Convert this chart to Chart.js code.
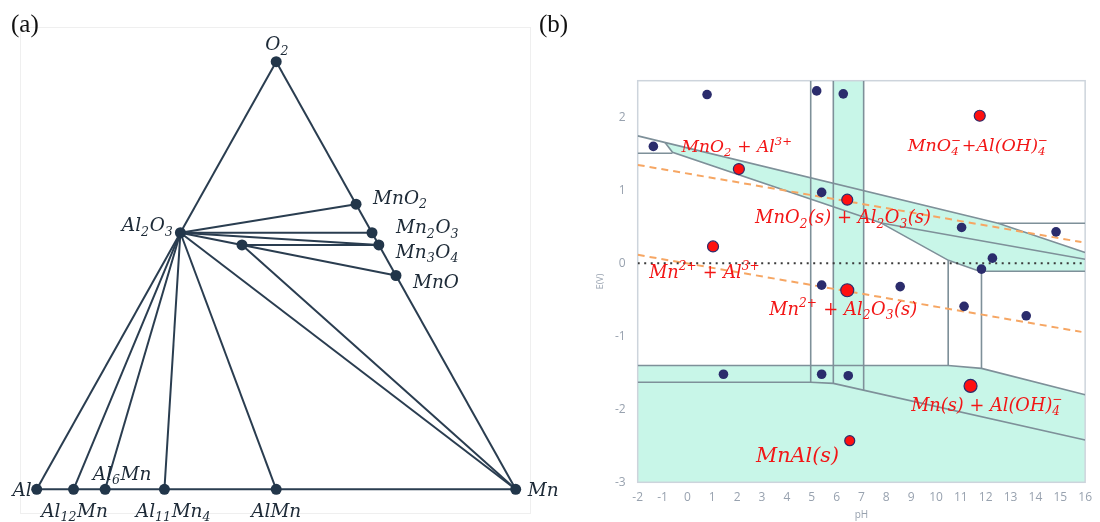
<!DOCTYPE html>
<html>
<head>
<meta charset="utf-8">
<script src="https://cdn.jsdelivr.net/npm/chart.js@4.4.1/dist/chart.umd.min.js"></script>
<style>
  html, body { margin: 0; padding: 0; background: #fff; width: 1100px; height: 522px; overflow: hidden; }
  #wrap { position: relative; width: 1100px; height: 522px; }
  canvas { position: absolute; }
  .tag { position: absolute; font-family: "Liberation Serif", "DejaVu Serif", serif; font-size: 25px; color: #111; line-height: 1; }
</style>
</head>
<body>
<div id="wrap">
  <canvas id="tern" width="560" height="522" style="left:0;top:0;width:560px;height:522px"></canvas>
  <canvas id="pourbaix" width="540" height="462" style="left:560px;top:60px;width:540px;height:462px"></canvas>
  <div class="tag" style="left:11px;top:11px">(a)</div>
  <div class="tag" style="left:539px;top:11px">(b)</div>
</div>
<script>
// ---------- (a) Al–Mn–O ternary: phases given as atom counts ----------
const phaseNames = ['Al', 'Al12Mn', 'Al6Mn', 'Al11Mn4', 'AlMn', 'Mn', 'MnO', 'Mn3O4', 'Mn2O3', 'MnO2', 'O2', 'Al2O3', 'MnAl2O4'];
const phaseAl    = [1, 12, 6, 11, 1, 0, 0, 0, 0, 0, 0, 2, 2];
const phaseMn    = [0, 1, 1, 4, 1, 1, 1, 3, 2, 1, 0, 0, 1];
const phaseO     = [0, 0, 0, 0, 0, 0, 1, 4, 3, 2, 2, 3, 4];
const phaseLabels = ['Al', 'Al_{12}Mn', 'Al_{6}Mn', 'Al_{11}Mn_{4}', 'AlMn', 'Mn', 'MnO', 'Mn_{3}O_{4}', 'Mn_{2}O_{3}', 'MnO_{2}', 'O_{2}', 'Al_{2}O_{3}', ''];
const tieLines = [
  ['Al', 'Mn'], ['Al', 'Al2O3'], ['O2', 'Al2O3'], ['O2', 'MnO2'], ['MnO2', 'Mn2O3'],
  ['Mn2O3', 'Mn3O4'], ['Mn3O4', 'MnO'], ['MnO', 'Mn'],
  ['Al2O3', 'MnO2'], ['Al2O3', 'Mn2O3'], ['Al2O3', 'Mn3O4'], ['Al2O3', 'MnAl2O4'],
  ['MnAl2O4', 'Mn3O4'], ['MnAl2O4', 'MnO'], ['MnAl2O4', 'Mn'],
  ['Al2O3', 'Mn'], ['Al2O3', 'AlMn'], ['Al2O3', 'Al11Mn4'], ['Al2O3', 'Al6Mn'], ['Al2O3', 'Al12Mn']
];

// ---------- (b) E–pH diagram ----------
const phTicks = [-2, -1, 0, 1, 2, 3, 4, 5, 6, 7, 8, 9, 10, 11, 12, 13, 14, 15, 16];
const eTicks = [-3, -2, -1, 0, 1, 2];

// calculated compositions (navy) and selected states (red)
const bluePH = [0.79, 5.2, 6.27, -1.37, 5.4, 11.03, 14.83, 12.27, 11.83, 5.4, 8.56, 11.13, 13.63, 1.45, 5.4, 6.47];
const blueE  = [2.31, 2.36, 2.32, 1.60, 0.97, 0.49, 0.43, 0.07, -0.08, -0.30, -0.32, -0.59, -0.72, -1.52, -1.52, -1.54];
const redPH  = [2.07, 6.43, 1.03, 11.76, 6.43, 11.39, 6.53];
const redE   = [1.29, 0.87, 0.23, 2.02, -0.37, -1.68, -2.43];

// stability domains (pH, E)
const domainBand   = [[-0.9, 1.655], [12.5, 0.548], [16, 0.146], [16, -0.11], [11.75, -0.11], [10.5, 0.04], [7.8, 0.55], [-0.6, 1.52]];
const domainStripe = [[5.87, 2.5], [7.09, 2.5], [7.09, -3], [5.87, -3]];
const domainLow    = [[-2, -1.40], [10.49, -1.40], [11.83, -1.44], [16, -1.80], [16, -3], [-2, -3]];

// domain boundaries (pH, E)
const edgeUpper    = [[-2, 1.744], [12.5, 0.548], [16, 0.146]];
const edgeTopLeft  = [[-2, 1.507], [-0.6, 1.507]];
const edgeLower    = [[-0.9, 1.655], [-0.6, 1.52], [7.8, 0.55]];
const edgeMiddle   = [[7.8, 0.55], [16, 0.055]];
const edgeSteep    = [[7.8, 0.55], [10.5, 0.04], [11.75, -0.11], [16, -0.11]];
const edgeTopRight = [[12.5, 0.548], [16, 0.548]];
const edgeV1       = [[4.96, 2.5], [4.96, -1.63]];
const edgeV2       = [[5.87, 2.5], [5.87, -1.645]];
const edgeV3       = [[7.09, 2.5], [7.09, -1.74]];
const edgeV4       = [[10.49, 0.04], [10.49, -1.40]];
const edgeV5       = [[11.83, -0.11], [11.83, -1.44]];
const edgeLow1     = [[-2, -1.40], [10.49, -1.40], [11.83, -1.44], [16, -1.80]];
const edgeLow2     = [[-2, -1.63], [4.96, -1.63], [5.87, -1.645], [16, -2.42]];

// water stability limits and the E = 0 reference
const waterUpper = [[-2, 1.347], [15.85, 0.29]];
const waterLower = [[-2, 0.115], [15.85, -0.94]];
const zeroLine   = [[-2, 0], [16, 0]];

// ---------- styling ----------
const INK = '#22364a';
const GREEN = '#c8f6e8';
const EDGE = '#7e9099';
const NAVY = '#2b2c6c';
const TICK = '#98a2af';
const SERIF = '"DejaVu Serif"';
const redRadius = [5.5, 5.5, 5.5, 5.5, 6.5, 6.5, 5];

// ---------- rich text (sub/superscripts) ----------
function parseRich(str) {
  const segs = [];
  let buf = '', i = 0;
  while (i < str.length) {
    const c = str[i];
    if ((c === '_' || c === '^') && str[i + 1] === '{') {
      if (buf) { segs.push({ t: 'n', s: buf }); buf = ''; }
      const end = str.indexOf('}', i);
      const content = str.slice(i + 2, end);
      const kind = c === '_' ? 'sub' : 'sup';
      const prev = segs[segs.length - 1];
      if (prev && prev.t !== 'n' && prev.t !== kind && !prev.stack) prev.stack = { t: kind, s: content };
      else segs.push({ t: kind, s: content });
      i = end + 1;
    } else { buf += c; i++; }
  }
  if (buf) segs.push({ t: 'n', s: buf });
  return segs;
}
function richWidth(ctx, segs, size, family) {
  let w = 0;
  for (const sg of segs) {
    if (sg.t === 'n') { ctx.font = `italic ${size}px ${family}`; w += ctx.measureText(sg.s).width; }
    else {
      ctx.font = `italic ${size * 0.68}px ${family}`;
      let ww = ctx.measureText(sg.s).width;
      if (sg.stack) ww = Math.max(ww, ctx.measureText(sg.stack.s).width);
      w += ww + size * 0.03;
    }
  }
  return w;
}
function drawRich(ctx, str, x, yMid, opt) {
  const segs = parseRich(str);
  const family = opt.family || SERIF;
  let size = opt.size || 20;
  if (opt.w) size = size * opt.w / richWidth(ctx, segs, size, family);
  const total = richWidth(ctx, segs, size, family);
  let cx = x;
  if (opt.align === 'center') cx = x - total / 2;
  else if (opt.align === 'right') cx = x - total;
  const base = yMid + size * 0.36;
  ctx.save();
  ctx.fillStyle = opt.color;
  ctx.textBaseline = 'alphabetic';
  ctx.textAlign = 'left';
  for (const sg of segs) {
    if (sg.t === 'n') {
      ctx.font = `italic ${size}px ${family}`;
      ctx.fillText(sg.s, cx, base);
      cx += ctx.measureText(sg.s).width;
    } else {
      ctx.font = `italic ${size * 0.68}px ${family}`;
      const parts = [sg].concat(sg.stack ? [sg.stack] : []);
      let ww = 0;
      for (const p of parts) {
        const dy = p.t === 'sub' ? size * 0.24 : -size * 0.42;
        ctx.fillText(p.s, cx, base + dy);
        ww = Math.max(ww, ctx.measureText(p.s).width);
      }
      cx += ww + size * 0.03;
    }
  }
  ctx.restore();
}

// ---------- (a) chart ----------
function phaseXY(i) {
  const t = phaseAl[i] + phaseMn[i] + phaseO[i];
  const fMn = phaseMn[i] / t, fO = phaseO[i] / t;
  return { x: fMn + 0.5 * fO, y: fO };
}
const phasePts = phaseNames.map((_, i) => phaseXY(i));
const byName = n => phasePts[phaseNames.indexOf(n)];

const PHASE_FONT = 18.5;
const phaseLabelPlace = {
  'O2':      { dx: 1,   dy: -18, align: 'center' },
  'MnO2':    { dx: 17,  dy: -7,  align: 'left' },
  'Mn2O3':   { dx: 24,  dy: -6,  align: 'left' },
  'Mn3O4':   { dx: 17,  dy: 6,   align: 'left' },
  'MnO':     { dx: 17,  dy: 6,   align: 'left' },
  'Al2O3':   { dx: -7,  dy: -8,  align: 'right' },
  'Al':      { dx: -5,  dy: 0,   align: 'right' },
  'Mn':      { dx: 12,  dy: 0,   align: 'left' },
  'Al12Mn':  { dx: 1,   dy: 21,  align: 'center' },
  'Al6Mn':   { dx: 17,  dy: -16, align: 'center' },
  'Al11Mn4': { dx: 9,   dy: 21,  align: 'center' },
  'AlMn':    { dx: 0,   dy: 21,  align: 'center' }
};

const ternaryDecor = {
  id: 'ternaryDecor',
  beforeDraw(chart) {
    const ctx = chart.ctx;
    ctx.save();
    ctx.strokeStyle = '#efefef';
    ctx.lineWidth = 1;
    ctx.strokeRect(20.5, 27.5, 510, 486);
    ctx.restore();
  },
  afterDatasetsDraw(chart) {
    const ctx = chart.ctx, sx = chart.scales.x, sy = chart.scales.y;
    phaseNames.forEach((n, i) => {
      const place = phaseLabelPlace[n];
      if (!place || !phaseLabels[i]) return;
      const px = sx.getPixelForValue(phasePts[i].x), py = sy.getPixelForValue(phasePts[i].y);
      drawRich(ctx, phaseLabels[i], px + place.dx, py + place.dy, { size: PHASE_FONT, align: place.align, color: '#1d2a37' });
    });
  }
};

new Chart(document.getElementById('tern'), {
  type: 'scatter',
  data: {
    datasets: [
      { data: phasePts, pointRadius: 5.5, pointBackgroundColor: INK, pointBorderWidth: 0, showLine: false, order: 0, clip: false }
    ].concat(tieLines.map(([a, b]) => ({
      data: [byName(a), byName(b)], showLine: true, pointRadius: 0, borderColor: '#2a3d50', borderWidth: 2, order: 1, clip: false
    })))
  },
  options: {
    responsive: false, animation: false, devicePixelRatio: 1,
    layout: { padding: { left: 36.7, right: 44.3, top: 61.7, bottom: 32.7 } },
    plugins: { legend: { display: false }, tooltip: { enabled: false } },
    scales: { x: { display: false, min: 0, max: 1 }, y: { display: false, min: 0, max: 1 } }
  },
  plugins: [ternaryDecor]
});

// ---------- (b) chart ----------
const regionLabels = [
  { text: 'MnO_{2} + Al^{3+}',              ph: -0.24, e: 1.607,  w: 111 },
  { text: 'MnO_{4}^{−}+Al(OH)_{4}^{−}',     ph: 8.86,  e: 1.62,   w: 141 },
  { text: 'MnO_{2}(s) + Al_{2}O_{3}(s)',    ph: 2.72,  e: 0.634,  w: 176 },
  { text: 'Mn^{2+} + Al^{3+}',              ph: -1.54, e: -0.113, w: 111 },
  { text: 'Mn^{2+} + Al_{2}O_{3}(s)',       ph: 3.29,  e: -0.615, w: 148 },
  { text: 'Mn(s) + Al(OH)_{4}^{−}',         ph: 9.0,   e: -1.93,  w: 152 },
  { text: 'MnAl(s)',                        ph: 2.76,  e: -2.615, w: 83 }
];

const pts = arr => arr.map(([x, y]) => ({ x, y }));
const edge = arr => ({ data: pts(arr), showLine: true, pointRadius: 0, borderColor: EDGE, borderWidth: 1.6, order: 5 });

const domainFill = {
  id: 'domainFill',
  beforeDatasetsDraw(chart) {
    const ctx = chart.ctx, sx = chart.scales.x, sy = chart.scales.y, a = chart.chartArea;
    ctx.save();
    ctx.beginPath();
    ctx.rect(a.left, a.top, a.right - a.left, a.bottom - a.top);
    ctx.clip();
    ctx.fillStyle = GREEN;
    [domainBand, domainStripe, domainLow].forEach(poly => {
      ctx.beginPath();
      poly.forEach(([x, y], k) => {
        const px = sx.getPixelForValue(x), py = sy.getPixelForValue(y);
        k ? ctx.lineTo(px, py) : ctx.moveTo(px, py);
      });
      ctx.closePath();
      ctx.fill();
    });
    ctx.restore();
    ctx.save();
    ctx.strokeStyle = '#cdd4dc';
    ctx.lineWidth = 1.5;
    ctx.strokeRect(a.left, a.top, a.right - a.left, a.bottom - a.top);
    ctx.restore();
  },
  afterDatasetsDraw(chart) {
    const ctx = chart.ctx, sx = chart.scales.x, sy = chart.scales.y;
    regionLabels.forEach(l => {
      drawRich(ctx, l.text, sx.getPixelForValue(l.ph), sy.getPixelForValue(l.e), { w: l.w, align: 'left', color: '#f21616' });
    });
  }
};

new Chart(document.getElementById('pourbaix'), {
  type: 'scatter',
  data: {
    datasets: [
      { data: redPH.map((x, i) => ({ x, y: redE[i] })), pointRadius: redRadius, pointBackgroundColor: '#ff1010', pointBorderColor: NAVY, pointBorderWidth: 1.2, order: 0 },
      { data: bluePH.map((x, i) => ({ x, y: blueE[i] })), pointRadius: 4.8, pointBackgroundColor: NAVY, pointBorderWidth: 0, order: 1 },
      { data: pts(zeroLine), showLine: true, pointRadius: 0, borderColor: '#3a3a3a', borderWidth: 1.8, borderDash: [2, 4.5], order: 2 },
      { data: pts(waterUpper), showLine: true, pointRadius: 0, borderColor: '#f6a663', borderWidth: 2, borderDash: [7, 5], order: 3 },
      { data: pts(waterLower), showLine: true, pointRadius: 0, borderColor: '#f6a663', borderWidth: 2, borderDash: [7, 5], order: 3 },
      edge(edgeUpper), edge(edgeTopLeft), edge(edgeLower), edge(edgeMiddle), edge(edgeSteep), edge(edgeTopRight),
      edge(edgeV1), edge(edgeV2), edge(edgeV3), edge(edgeV4), edge(edgeV5), edge(edgeLow1), edge(edgeLow2)
    ]
  },
  options: {
    responsive: false, animation: false, devicePixelRatio: 1,
    layout: { padding: { left: 0, right: 12.7, top: 20.7, bottom: 0 } },
    plugins: { legend: { display: false }, tooltip: { enabled: false } },
    scales: {
      x: {
        type: 'linear', min: -2, max: 16,
        afterBuildTicks: s => { s.ticks = phTicks.map(v => ({ value: v })); },
        afterFit: s => { s.height = 39.7; },
        grid: { display: false, drawTicks: false }, border: { display: false },
        ticks: { padding: 8, color: TICK, autoSkip: false, maxRotation: 0, font: { family: '"Open Sans"', size: 12 } },
        title: { display: true, text: 'pH', color: TICK, font: { family: '"Open Sans"', size: 10 }, padding: { top: 0, bottom: 1 } }
      },
      y: {
        type: 'linear', min: -3, max: 2.5,
        afterBuildTicks: s => { s.ticks = eTicks.map(v => ({ value: v })); },
        afterFit: s => { s.width = 77.7; },
        grid: { display: false, drawTicks: false }, border: { display: false },
        ticks: { padding: 12, color: TICK, font: { family: '"Open Sans"', size: 12 } },
        title: { display: true, text: 'E(V)', color: TICK, font: { family: '"Open Sans"', size: 9 }, padding: { top: 35, bottom: 0 } }
      }
    }
  },
  plugins: [domainFill]
});
</script>
</body>
</html>
